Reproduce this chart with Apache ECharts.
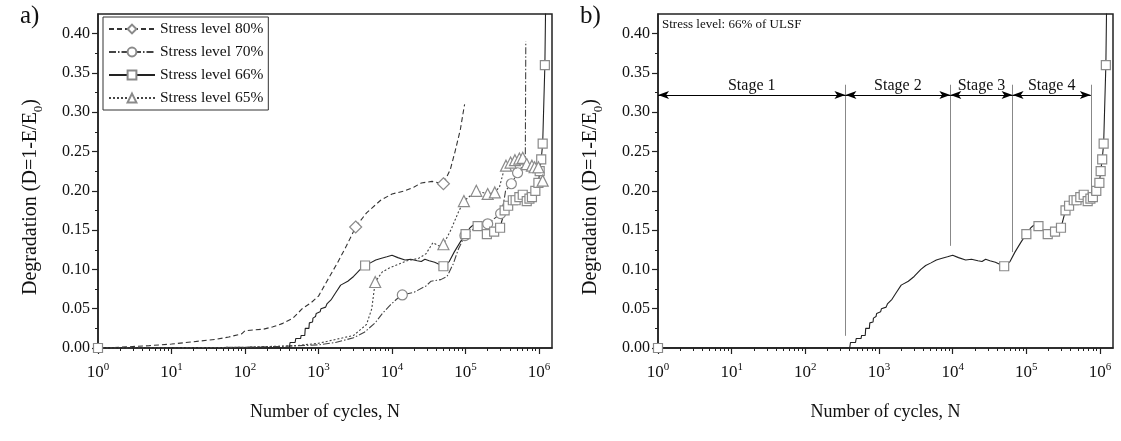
<!DOCTYPE html>
<html><head><meta charset="utf-8">
<script src="https://cdn.jsdelivr.net/npm/echarts@6/dist/echarts.min.js"></script>
<style>html,body{margin:0;padding:0;background:#fff}#c{width:1121px;height:441px}</style>
</head><body><div id="c"></div>
<script>
// ---------- data ----------
const xTickValues = [1, 10, 100, 1000, 10000, 100000, 1000000];
const minorMultipliers = [2, 3, 4, 5, 6, 7, 8, 9];
const yTickValues = [0, 0.05, 0.10, 0.15, 0.20, 0.25, 0.30, 0.35, 0.40];
const yMinorTickValues = [0.025, 0.075, 0.125, 0.175, 0.225, 0.275, 0.325, 0.375];
const legendNames = ['Stress level 80%', 'Stress level 70%', 'Stress level 66%', 'Stress level 65%'];

const s80 = [[1,0],[2,0.001],[5,0.003],[10,0.005],[20,0.008],[40,0.011],[60,0.014],[90,0.018],[100,0.022],[130,0.023],[180,0.024],[240,0.027],[320,0.031],[450,0.038],[600,0.05],[800,0.058],[1000,0.066],[1300,0.085],[1800,0.108],[2400,0.13],[3200,0.154],[4500,0.172],[7000,0.188],[10000,0.196],[15000,0.2],[20000,0.205],[25000,0.21],[35000,0.212],[50000,0.209],[62000,0.227],[72000,0.25],[85000,0.278],[93000,0.3],[97000,0.31]];
const m80 = [3200, 50000];

const s70 = [[1,0],[10,0],[100,0.001],[300,0.002],[1000,0.004],[1700,0.007],[3000,0.013],[4200,0.02],[5900,0.032],[7400,0.044],[9300,0.054],[11500,0.062],[13800,0.0675],[20000,0.071],[29000,0.079],[34000,0.085],[46000,0.087],[56000,0.091],[68000,0.107],[80000,0.126],[98000,0.143],[140000,0.154],[200000,0.158],[300000,0.171],[330000,0.185],[350000,0.2],[420000,0.209],[510000,0.223],[600000,0.232],[650000,0.235],[660000,0.39]];
const m70 = [13800, 98000, 200000, 300000, 420000, 510000];

const s66 = [[1,0],[400,0],[410,0.007],[480,0.007],[490,0.012],[570,0.012],[580,0.016],[650,0.016],[660,0.025],[740,0.025],[750,0.032],[830,0.033],[840,0.038],[910,0.04],[930,0.044],[1050,0.046],[1080,0.05],[1250,0.052],[1300,0.056],[1500,0.062],[1700,0.07],[2000,0.08],[2500,0.085],[3000,0.091],[3700,0.1],[4300,0.105],[5000,0.108],[6000,0.112],[7000,0.114],[8500,0.116],[10000,0.118],[12000,0.115],[15000,0.112],[18000,0.113],[22000,0.111],[25000,0.11],[28000,0.113],[32000,0.111],[38000,0.109],[45000,0.106],[50000,0.104],[60000,0.11],[70000,0.122],[85000,0.135],[100000,0.145],[115000,0.153],[125000,0.156],[146000,0.155],[170000,0.15],[195000,0.145],[245000,0.148],[295000,0.153],[340000,0.175],[380000,0.181],[440000,0.188],[480000,0.188],[540000,0.192],[600000,0.195],[680000,0.187],[740000,0.19],[800000,0.192],[890000,0.2],[980000,0.21],[1020000,0.225],[1070000,0.24],[1120000,0.26],[1200000,0.36],[1230000,0.44]];
const m66a = [1, 4300, 50000, 100000, 146000, 195000, 245000, 295000, 340000, 380000, 440000, 480000, 540000, 600000, 680000, 740000, 800000, 890000, 980000, 1020000, 1070000, 1120000, 1200000];
const m66b = [1, 50000, 100000, 146000, 195000, 245000, 295000, 340000, 380000, 440000, 480000, 540000, 600000, 680000, 740000, 800000, 890000, 980000, 1020000, 1070000, 1120000, 1200000];

const s65 = [[1,0],[10,0],[100,0.001],[500,0.003],[1000,0.006],[3000,0.016],[4500,0.03],[5300,0.05],[5900,0.084],[7400,0.097],[9300,0.102],[16000,0.111],[23000,0.114],[29000,0.12],[36000,0.134],[43000,0.13],[50000,0.132],[63000,0.15],[80000,0.173],[95000,0.187],[140000,0.2],[200000,0.196],[250000,0.198],[290000,0.205],[330000,0.225],[355000,0.232],[410000,0.236],[470000,0.239],[540000,0.241],[600000,0.242],[680000,0.234],[800000,0.232],[870000,0.23],[980000,0.23],[1120000,0.213]];
const m65 = [5900, 50000, 95000, 140000, 200000, 250000, 355000, 410000, 470000, 540000, 600000, 680000, 800000, 870000, 980000, 1120000];

const stageBounds = [1, 350, 9300, 65000, 750000];
const stageNames = ['Stage 1', 'Stage 2', 'Stage 3', 'Stage 4'];
const stageLineBottoms = [0.0155, 0.13, 0.122, 0.195];
const stageLineTop = 0.335;
const stageArrowY = 0.322;

// ---------- build ----------
const FF = 'Liberation Serif';
const xMinorTickValues = [];
for (const d of [1, 10, 100, 1000, 10000, 100000]) for (const m of minorMultipliers) xMinorTickValues.push(d * m);
const XMAX = 1.5e6, YMAX = 0.425;

function items(points, markers) {
  return points.map(p => markers.includes(p[0]) ? { value: p } : { value: p, symbol: 'none' });
}

function xAxes(g) {
  return [{
    type: 'log', logBase: 10, gridIndex: g, min: 1, max: XMAX, position: 'bottom',
    axisLine: { show: true, onZero: false, lineStyle: { color: '#222', width: 1.5 } },
    axisTick: { show: true, inside: false, length: 6, customValues: xTickValues, lineStyle: { color: '#222', width: 1.2 } },
    axisLabel: {
      customValues: xTickValues, margin: 14, fontSize: 17, color: '#111', fontFamily: FF, lineHeight: 22,
      formatter: v => '10{sup|' + Math.round(Math.log10(v)) + '}',
      rich: { sup: { fontSize: 11, verticalAlign: 'top', fontFamily: FF, color: '#111' } }
    },
    splitLine: { show: false },
    name: 'Number of cycles, N', nameLocation: 'middle', nameGap: 55,
    nameTextStyle: { fontSize: 18, color: '#111', fontFamily: FF }
  }, {
    type: 'log', logBase: 10, gridIndex: g, min: 1, max: XMAX, position: 'bottom',
    axisLine: { show: false }, axisLabel: { show: false }, splitLine: { show: false },
    axisTick: { show: true, length: 3, customValues: xMinorTickValues, lineStyle: { color: '#222', width: 1 } }
  }];
}
function yAxes(g) {
  return [{
    type: 'value', gridIndex: g, min: 0, max: YMAX, interval: 0.05, position: 'left',
    axisLine: { show: true, onZero: false, lineStyle: { color: '#222', width: 1.5 } },
    axisTick: { show: true, length: 6, customValues: yTickValues, lineStyle: { color: '#222', width: 1.2 } },
    axisLabel: { customValues: yTickValues, formatter: v => v.toFixed(2), fontSize: 16, color: '#111', fontFamily: FF, margin: 8 },
    splitLine: { show: false }
  }, {
    type: 'value', gridIndex: g, min: 0, max: YMAX, position: 'left',
    axisLine: { show: false }, axisLabel: { show: false }, splitLine: { show: false },
    axisTick: { show: true, length: 3, customValues: yMinorTickValues, lineStyle: { color: '#222', width: 1 } }
  }];
}
function lineSeries(name, data, symbol, size, dash, color, xi, yi) {
  return {
    name, type: 'line', xAxisIndex: xi, yAxisIndex: yi, data,
    symbol, symbolSize: size, showSymbol: true, clip: true, silent: true, animation: false,
    lineStyle: { color, width: 1.1, type: dash },
    itemStyle: { color: '#fff', borderColor: '#8a8a8a', borderWidth: 1.2 }
  };
}
function yTitle(x) {
  return {
    type: 'text', x: x, y: 197, rotation: Math.PI / 2,
    style: {
      text: 'Degradation (D=1-E/E{sub|0})', fontSize: 20, fontFamily: FF, fill: '#111',
      align: 'center', verticalAlign: 'middle', lineHeight: 28,
      rich: { sub: { fontSize: 13, fontFamily: FF, fill: '#111', verticalAlign: 'bottom' } }
    }
  };
}

const stageLines = [];
stageBounds.slice(1).forEach((b, i) => {
  stageLines.push([
    { coord: [b, stageLineBottoms[i]], symbol: 'none', lineStyle: { color: '#888', width: 1, type: 'solid' }, label: { show: false } },
    { coord: [b, stageLineTop], symbol: 'none' }
  ]);
});
stageNames.forEach((n, i) => {
  stageLines.push([
    { coord: [stageBounds[i], stageArrowY], symbol: 'arrow', symbolSize: [6, 11],
      lineStyle: { color: '#000', width: 1, type: 'solid' }, itemStyle: { color: '#000' },
      label: { show: true, position: 'middle', formatter: n, fontSize: 16, color: '#111', fontFamily: FF, distance: 1 } },
    { coord: [stageBounds[i + 1], stageArrowY], symbol: 'arrow', symbolSize: [6, 11] }
  ]);
});

const right66 = lineSeries('66b', items(s66, m66b), 'rect', 9, 'solid', '#222', 2, 2);
right66.markLine = { silent: true, animation: false, symbol: ['none', 'none'], data: stageLines };

const option = {
  animation: false,
  backgroundColor: '#fff',
  textStyle: { fontFamily: FF },
  grid: [
    { left: 98, top: 14, width: 454, height: 334, show: true, borderColor: '#222', borderWidth: 1.5 },
    { left: 658, top: 14, width: 455, height: 334, show: true, borderColor: '#222', borderWidth: 1.5 }
  ],
  xAxis: [...xAxes(0), ...xAxes(1)],
  yAxis: [...yAxes(0), ...yAxes(1)],
  legend: {
    data: legendNames, orient: 'vertical', left: 103, top: 17,
    itemWidth: 46, itemHeight: 11, itemGap: 7, padding: [4, 5, 4, 5],
    borderColor: '#333', borderWidth: 1, borderRadius: 0, backgroundColor: '#fff',
    textStyle: { fontSize: 15.5, color: '#111', fontFamily: FF }
  },
  graphic: [
    { type: 'text', left: 20, top: 4, style: { text: 'a)', fontSize: 25, fontFamily: FF, fill: '#111' } },
    { type: 'text', left: 580, top: 4, style: { text: 'b)', fontSize: 25, fontFamily: FF, fill: '#111' } },
    { type: 'text', left: 662, top: 18, style: { text: 'Stress level: 66% of ULSF', fontSize: 13, fontFamily: FF, fill: '#111' } },
    yTitle(31), yTitle(591)
  ],
  series: [
    lineSeries(legendNames[0], items(s80, m80), 'diamond', 12, [5, 3], '#333', 0, 0),
    lineSeries(legendNames[1], items(s70, m70), 'circle', 10, [7, 2, 1.5, 2], '#444', 0, 0),
    lineSeries(legendNames[2], items(s66, m66a), 'rect', 9, 'solid', '#222', 0, 0),
    lineSeries(legendNames[3], items(s65, m65), 'triangle', 11, [2, 2], '#444', 0, 0),
    right66
  ]
};
const chart = echarts.init(document.getElementById('c'), null, { renderer: 'canvas' });
chart.setOption(option);
</script></body></html>
